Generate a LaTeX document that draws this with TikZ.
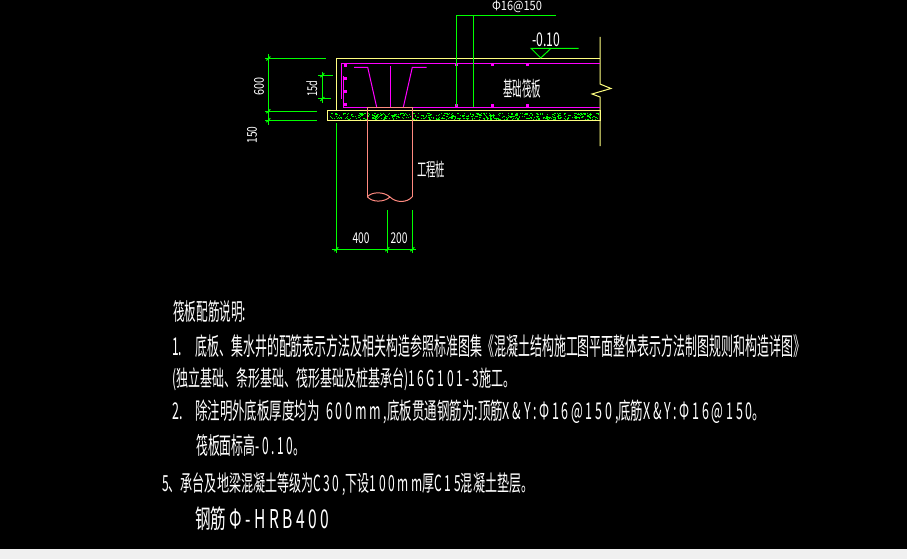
\documentclass[tikz,border=0pt]{standalone}
\usepackage{fontspec}
\setmainfont{Noto Sans CJK SC}
\newfontfamily\widefont[LetterSpace=22]{Noto Sans CJK SC}
\definecolor{slabyellow}{HTML}{FFFF80}
\definecolor{rebarpink}{HTML}{FF00FF}
\definecolor{dimgreen}{HTML}{00FF00}
\definecolor{pilered}{HTML}{FF8A80}
\newcommand{\cadtext}[3]{\resizebox*{#1pt}{#2pt}{#3}}
\newcommand{\wl}[1]{{\widefont #1}}
\tikzset{
  cadlabel/.style={text=white,inner sep=0pt},
  noteline/.style={cadlabel,anchor=west},
  slabline/.style={slabyellow,line width=1pt},
  rebarline/.style={rebarpink,line width=1pt},
  dimline/.style={dimgreen,line width=1pt},
  pileline/.style={pilered,line width=1pt}
}
\begin{document}
\begin{tikzpicture}[x=1pt,y=-1pt]

    % page
    \useasboundingbox (0,0) rectangle (907,559);
    \fill[black] (0,0) rectangle (907,549);
    \fill[black!6] (0,549) rectangle (907,559);

    % stipple of the pad
    \pgfmathsetseed{17}
    \foreach \i in {1,...,520}{
      \pgfmathsetmacro{\px}{329.5+269*rnd}
      \pgfmathsetmacro{\py}{112.5+6.5*rnd}
      \fill[dimgreen] (\px,\py) rectangle ++(1.2,1);
    }

    % draw slab and pad
    \draw[slabline] (336.7,111) -- (336.7,58.5) -- (600,58.5);
    \draw[slabline] (327.7,111) -- (600,111) -- (600,120.5) -- (327.7,120.5) -- cycle;
    \draw[slabline] (600,37) -- (600,84) -- (611,88.5) -- (592,94) -- (600,97) -- (600,146);

    % draw rebar
    \draw[rebarline] (341.3,98.7) -- (341.3,63.3) -- (600,63.3);
    \draw[rebarline] (343.3,76) -- (343.3,107.3) -- (600,107.3);
    \draw[rebarline] (354,67.3) -- (367.7,67.3) -- (376.7,107.3);
    \draw[rebarline] (403.3,107.3) -- (412.3,67.3) -- (426.7,67.3);
    \draw[rebarline] (390.3,66) -- (390.3,107.3);
    \foreach \x/\y in {345.5/65.5,345.5/79,345.5/92,345.5/105,456/65,456/105.5,492/65,492/105.5,527.5/65,527.5/105.5}{
      \fill[rebarpink] (\x-1.5,\y-1.5) rectangle (\x+1.5,\y+1.5);
    }

    % draw pile
    \draw[pileline] (367.3,196.7) -- (367.3,107.3) -- (412.3,107.3) -- (412.3,196.7);
    \draw[pileline] (367.3,196.7) .. controls (372,191.5) and (384,191.5) .. (390,197);
    \draw[pileline] (367.3,196.7) .. controls (372,202.5) and (384,202.5) .. (390,197);
    \draw[pileline] (390,197) .. controls (396,203) and (407,203) .. (412.3,196.7);

    % leaders and level mark
    \draw[dimline] (456.3,105.7) -- (456.3,15.3) -- (555.7,15.3);
    \draw[dimline] (473.3,107.3) -- (473.3,15.3);
    \draw[dimline] (578.7,48.3) -- (531,48.3) -- (540.7,58) -- (551,48.3);

    % draw dimensions
    \draw[dimline] (268.3,54) -- (268.3,125);
    \draw[dimline] (265,58.5) -- (326,58.5);
    \draw[dimline] (265,111.3) -- (317,111.3);
    \draw[dimline] (265,120.3) -- (317,120.3);
    \draw[dimline] (322.3,71.7) -- (322.3,102.7);
    \draw[dimline] (318,75.3) -- (333,75.3);
    \draw[dimline] (318,99) -- (331,99);
    \draw[dimline] (336.3,123.3) -- (336.3,253);
    \draw[dimline] (387.3,210) -- (387.3,253);
    \draw[dimline] (412.3,210) -- (412.3,253);
    \draw[dimline] (332,249.3) -- (416,249.3);
    \foreach \x/\y in {268.3/58.5,268.3/111.3,268.3/120.3,322.3/75.3,322.3/99,336.3/249.3,387.3/249.3,412.3/249.3}{
      \draw[dimline] (\x-2,\y+2) -- (\x+2,\y-2);
    }

    % labels on the section
    \node[cadlabel] (steelmark) at (517,6.5) {\cadtext{50}{12}{Φ16@150}};
    \node[cadlabel] (level) at (546,40) {\cadtext{28}{14}{-0.10}};
    \node[cadlabel] (raft) at (522,89) {\cadtext{38}{19}{基础筏板}};
    \node[cadlabel] (pile) at (431,169) {\cadtext{28}{17}{工程桩}};
    \node[cadlabel,rotate=90] (slabdim) at (259,87) {\cadtext{18}{10}{600}};
    \node[cadlabel,rotate=90] (paddim) at (252,135) {\cadtext{17}{10}{150}};
    \node[cadlabel,rotate=90] (anchordim) at (311.7,89) {\cadtext{16}{11}{15d}};
    \node[cadlabel] (dimleft) at (361,238) {\cadtext{17}{11}{400}};
    \node[cadlabel] (dimright) at (399,238) {\cadtext{17}{11}{200}};

    % notes
    \node[noteline] (title) at (173,312) {\cadtext{73}{22}{筏板配筋说明:}};
    \node[noteline] (lineone) at (172,346) {\cadtext{633}{23}{1.\hspace{1.1em}底板、集水井的配筋表示方法及相关构造参照标准图集《混凝土结构施工图平面整体表示方法制图规则和构造详图》}};
    \node[noteline] (linetwo) at (172,379) {\cadtext{343}{23}{(独立基础、条形基础、筏形基础及桩基承台)\wl{16G101-3}施工。}};
    \node[noteline] (linethree) at (172,412) {\cadtext{593}{24}{2.\hspace{1em}除注明外底板厚度均为\hspace{.5em}\wl{600mm,}底板贯通钢筋为:顶筋\wl{X\&Y:Φ16@150,}底筋\wl{X\&Y:Φ16@150}。}};
    \node[noteline] (linefour) at (196,445) {\cadtext{109}{22}{筏板面标高\wl{-0.10}。}};
    \node[noteline] (linefive) at (162,484) {\cadtext{371}{23}{5、承台及地梁混凝土等级为\wl{C30,}下设\wl{100mm}厚\wl{C15}混凝土垫层。}};
    \node[noteline] (linesix) at (195,519) {\cadtext{134}{24}{钢筋 \wl{Φ-HRB400}}};
\end{tikzpicture}
\end{document}
